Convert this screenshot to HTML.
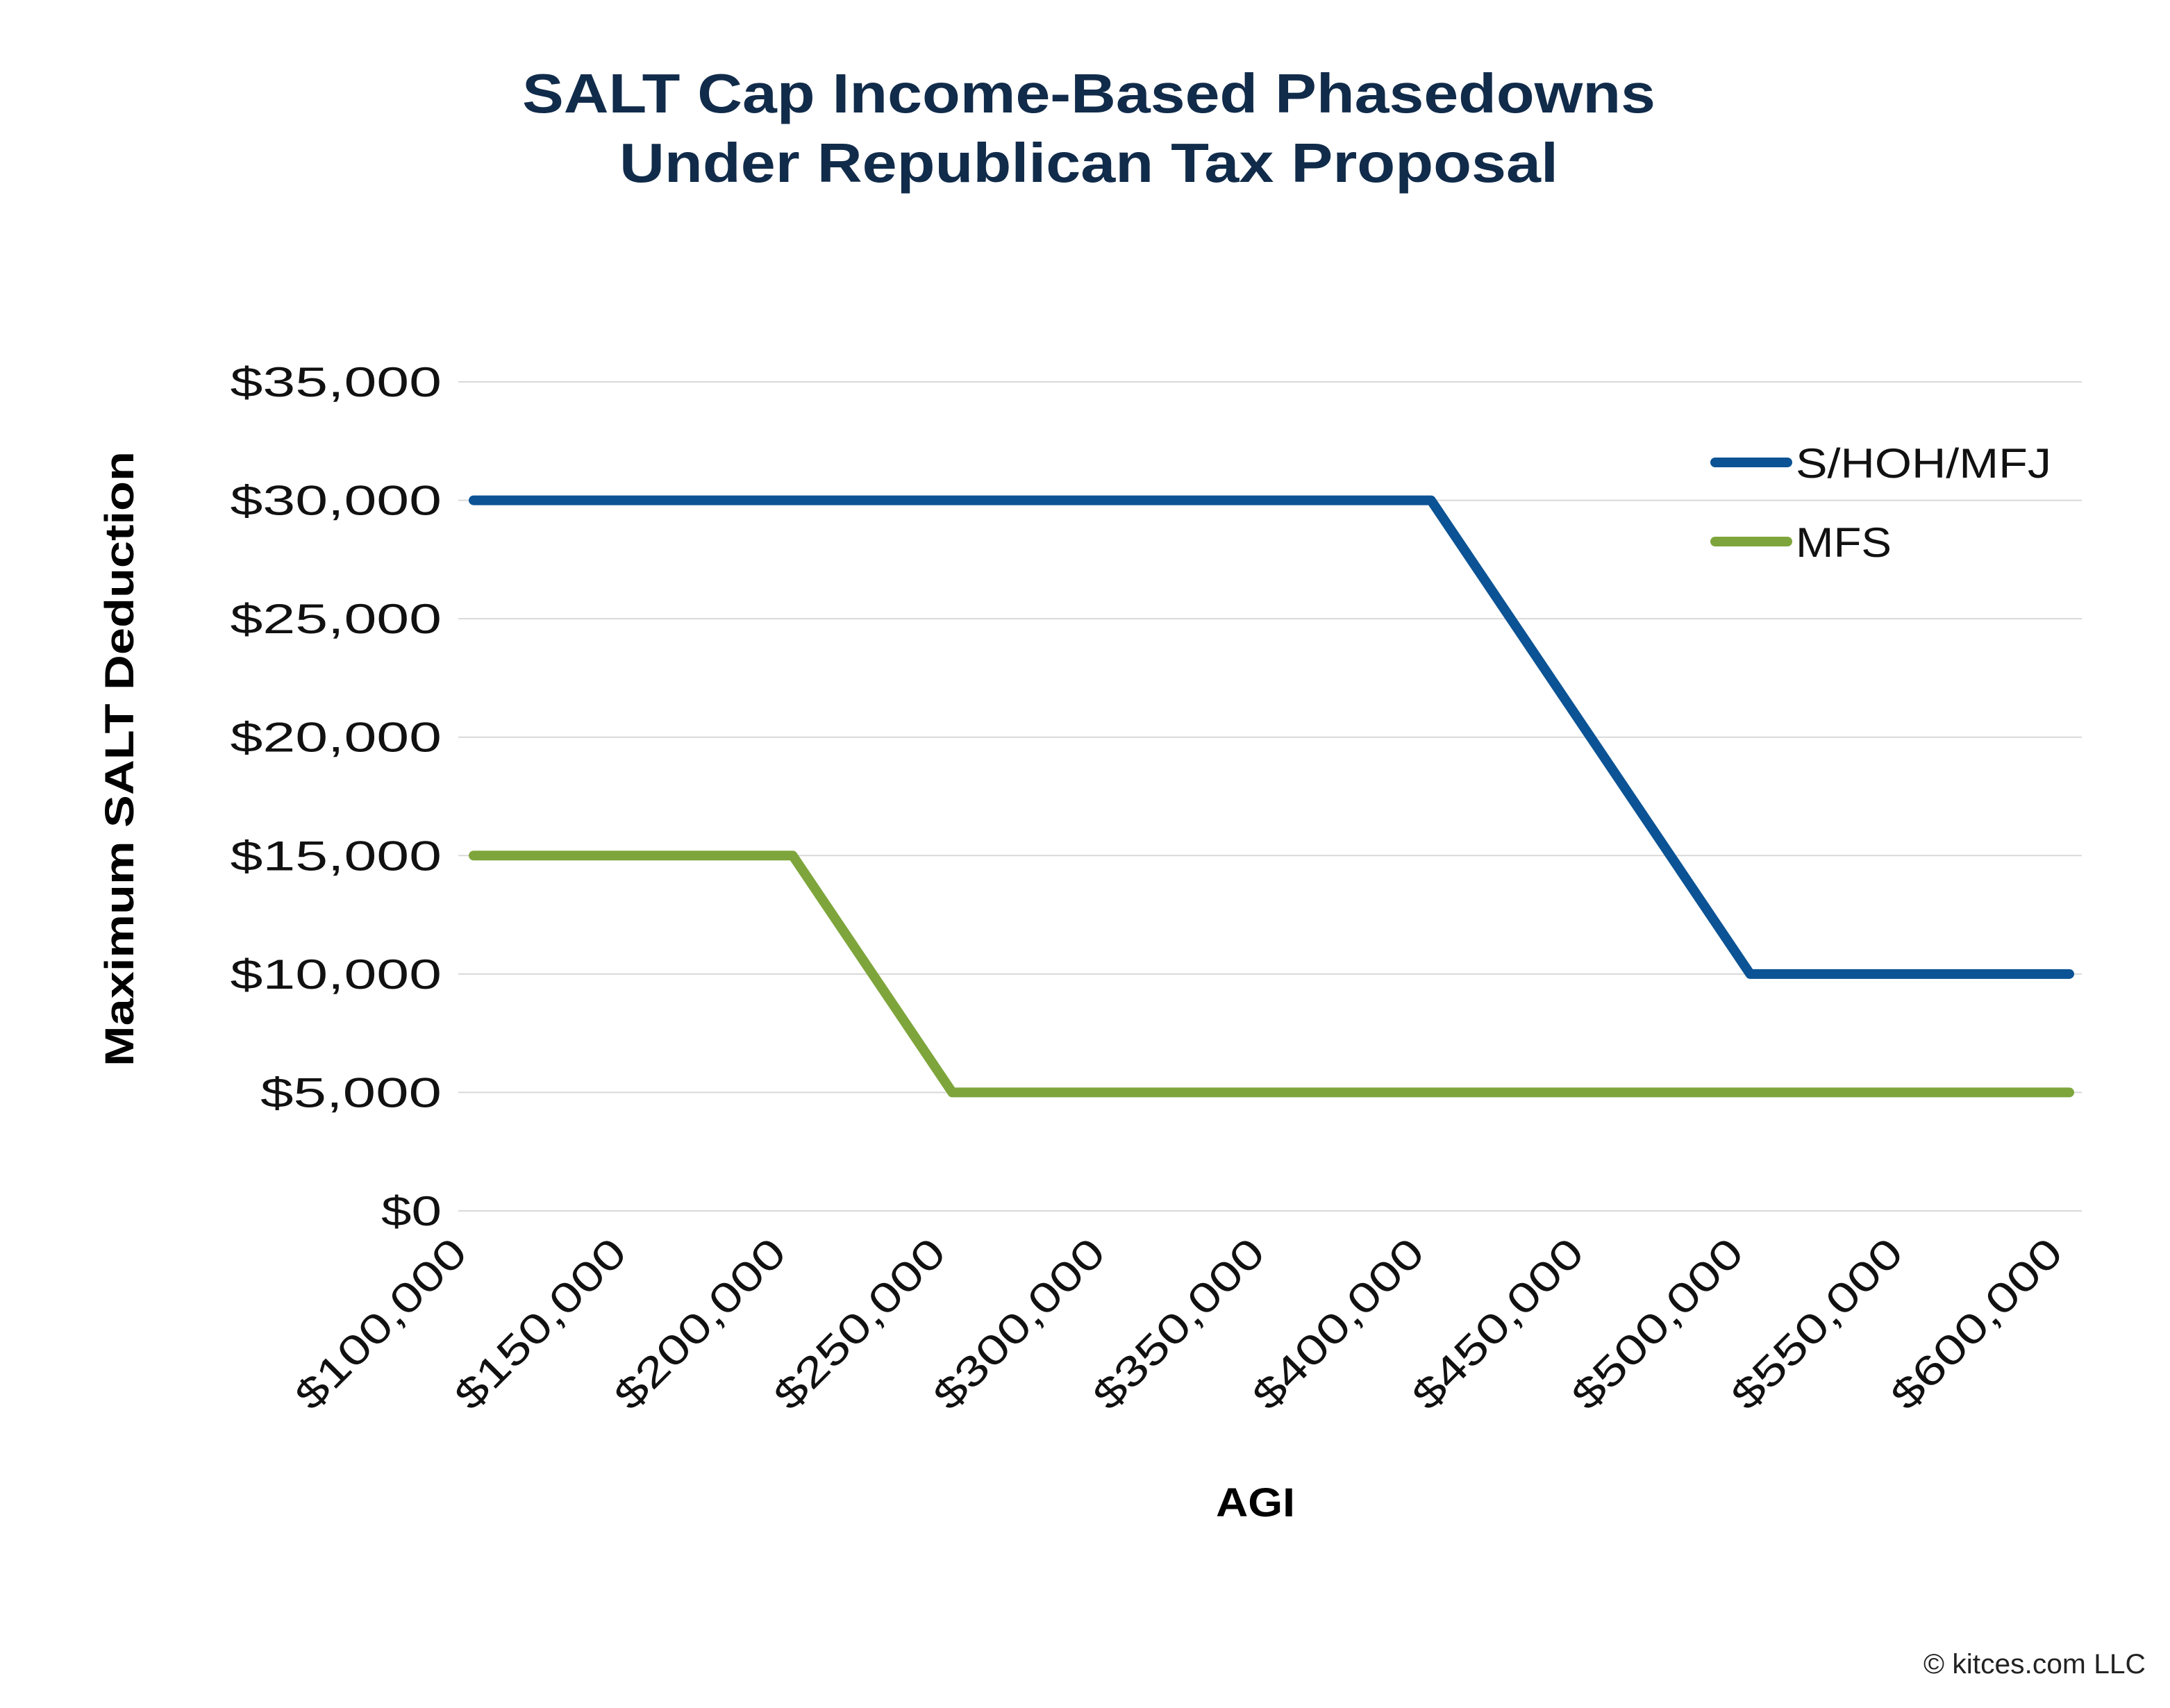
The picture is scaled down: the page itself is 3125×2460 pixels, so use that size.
<!DOCTYPE html>
<html>
<head>
<meta charset="utf-8">
<style>
html,body{margin:0;padding:0;background:#fff;}
svg{display:block;}
text{font-family:"Liberation Sans",sans-serif;}
</style>
</head>
<body>
<svg id="chart" width="3125" height="2460" viewBox="0 0 3125 2460" xmlns="http://www.w3.org/2000/svg">
  <rect x="0" y="0" width="3125" height="2460" fill="#ffffff"/>
  <text x="1568" y="162" text-anchor="middle" font-size="80" font-weight="bold" fill="#112b4a" textLength="1632" lengthAdjust="spacingAndGlyphs">SALT Cap Income-Based Phasedowns</text>
  <text x="1568" y="262" text-anchor="middle" font-size="80" font-weight="bold" fill="#112b4a" textLength="1352" lengthAdjust="spacingAndGlyphs">Under Republican Tax Proposal</text>
  <g id="grid"></g>
  <g id="yticks"></g>
  <g id="xticks"></g>
  <g id="series"></g>
  <text transform="translate(192,1093) rotate(-90)" text-anchor="middle" font-size="58" font-weight="bold" fill="#000" textLength="886" lengthAdjust="spacingAndGlyphs">Maximum SALT Deduction</text>
  <text x="1808" y="2184" text-anchor="middle" font-size="58" font-weight="bold" fill="#000" textLength="114" lengthAdjust="spacingAndGlyphs">AGI</text>
  <g>
    <g>
      <line x1="2470" y1="666" x2="2574" y2="666" stroke="#0b5394" stroke-width="14" stroke-linecap="round"/>
      <text x="2586" y="688" font-size="60" fill="#111" textLength="368" lengthAdjust="spacingAndGlyphs">S/HOH/MFJ</text>
    </g>
    <g>
      <line x1="2470" y1="780" x2="2574" y2="780" stroke="#7ea53b" stroke-width="14" stroke-linecap="round"/>
      <text x="2586" y="802" font-size="60" fill="#111" textLength="138" lengthAdjust="spacingAndGlyphs">MFS</text>
    </g>
  </g>
  <text x="3090" y="2410" text-anchor="end" font-size="40" fill="#222" textLength="320" lengthAdjust="spacingAndGlyphs">© kitces.com LLC</text>
</svg>
<script>
const xCategories = [100000,150000,200000,250000,300000,350000,400000,450000,500000,550000,600000];
const yTicks = [0,5000,10000,15000,20000,25000,30000,35000];
const shohmfjX = [100000,400000,450000,500000,600000];
const shohmfjY = [30000,30000,20000,10000,10000];
const mfsX = [100000,200000,250000,600000];
const mfsY = [15000,15000,5000,5000];

const NS = "http://www.w3.org/2000/svg";
const X0 = 682, X1 = 2980, Y0 = 1744, Y1 = 550;
function xs(v){ return X0 + (v - 100000) / 500000 * (X1 - X0); }
function ys(v){ return Y0 - v / 35000 * (Y0 - Y1); }
function fmt(v){ return "$" + v.toLocaleString("en-US"); }

const grid = document.getElementById("grid");
const yt = document.getElementById("yticks");
yTicks.forEach(v => {
  const l = document.createElementNS(NS, "line");
  
  
  l.setAttribute("x1", 660); l.setAttribute("x2", 2998);
  l.setAttribute("y1", ys(v)); l.setAttribute("y2", ys(v));
  l.setAttribute("stroke", "#d9d9d9"); l.setAttribute("stroke-width", "2");
  grid.appendChild(l);
  const t = document.createElementNS(NS, "text");
  
  
  const s = fmt(v);
  t.setAttribute("x", 636); t.setAttribute("y", ys(v) + 21);
  t.setAttribute("text-anchor", "end"); t.setAttribute("font-size", "60"); t.setAttribute("fill", "#111");
  t.setAttribute("textLength", s.length * 43.5); t.setAttribute("lengthAdjust", "spacingAndGlyphs");
  t.textContent = s;
  yt.appendChild(t);
});
const xt = document.getElementById("xticks");
xCategories.forEach(v => {
  const t = document.createElementNS(NS, "text");
  
  
  const x = xs(v) - 6, y = 1808;
  t.setAttribute("transform", "translate(" + x + "," + y + ") rotate(-45)");
  t.setAttribute("text-anchor", "end"); t.setAttribute("font-size", "60"); t.setAttribute("fill", "#111");
  t.setAttribute("textLength", 320); t.setAttribute("lengthAdjust", "spacingAndGlyphs");
  t.textContent = fmt(v);
  xt.appendChild(t);
});
const series = document.getElementById("series");
function drawLine(xa, ya, color, name){
  const p = document.createElementNS(NS, "polyline");
  
  
  p.setAttribute("points", xa.map((x,i) => xs(x) + "," + ys(ya[i])).join(" "));
  p.setAttribute("fill", "none"); p.setAttribute("stroke", color);
  p.setAttribute("stroke-width", "14"); p.setAttribute("stroke-linecap", "round"); p.setAttribute("stroke-linejoin", "round");
  series.appendChild(p);
}
drawLine(mfsX, mfsY, "#7ea53b", "mfs-line");
drawLine(shohmfjX, shohmfjY, "#0b5394", "shohmfj-line");
</script>
</body>
</html>
